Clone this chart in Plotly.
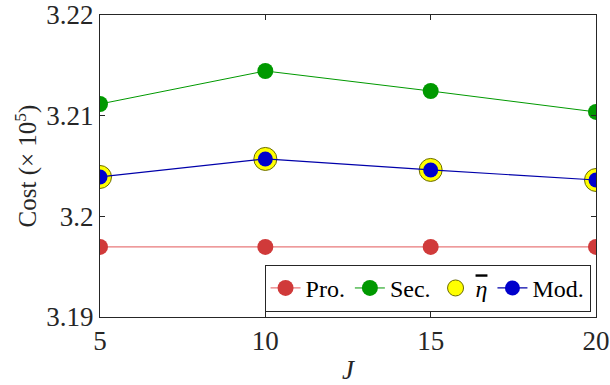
import plotly.graph_objects as go

J = [5, 10, 15, 20]
pro = [3.19696, 3.19696, 3.19696, 3.19696]
sec = [3.21116, 3.21444, 3.21245, 3.21037]
eta = [3.20391, 3.20570, 3.20461, 3.20361]
mod = [3.20391, 3.20570, 3.20461, 3.20361]
yticks = [3.19, 3.20, 3.21, 3.22]
ytick_text = ["3.19", "3.2", "3.21", "3.22"]
xticks = [5, 10, 15, 20]

FONT = "Liberation Serif"
AX = "#262626"
FS = 27

fig = go.Figure()
fig.add_trace(go.Scatter(x=J, y=pro, name="Pro.", mode="lines+markers",
                         line=dict(color="#e8797a", width=1.2),
                         marker=dict(color="#d03a3a", size=16)))
fig.add_trace(go.Scatter(x=J, y=sec, name="Sec.", mode="lines+markers",
                         line=dict(color="#009900", width=1),
                         marker=dict(color="#009900", size=16)))
fig.add_trace(go.Scatter(x=J, y=eta,
                         name="<span style='text-decoration:overline'><i>η</i></span>",
                         mode="markers",
                         marker=dict(color="#ffff00", size=23,
                                     line=dict(color="#6b6b00", width=1))))
fig.add_trace(go.Scatter(x=J, y=mod, name="Mod.", mode="lines+markers",
                         line=dict(color="#0000aa", width=1.2),
                         marker=dict(color="#0000cc", size=15)))

axis_common = dict(showline=True, linecolor=AX, linewidth=1, mirror="allticks",
                   ticks="inside", ticklen=5, tickcolor=AX, showgrid=False,
                   zeroline=False, automargin=False,
                   tickfont=dict(family=FONT, size=FS, color=AX))
fig.update_xaxes(range=[5, 20], tickvals=xticks, **axis_common,
                 title=dict(text="<i>J</i>", font=dict(family=FONT, size=FS, color=AX),
                            standoff=8))
fig.update_yaxes(range=[3.19, 3.22], tickvals=yticks, ticktext=ytick_text, **axis_common,
                 title=dict(text="Cost (× 10<sup>5</sup>)",
                            font=dict(family=FONT, size=25, color=AX), standoff=2))

fig.update_layout(
    width=610, height=385,
    margin=dict(l=100, r=14, t=15, b=68),
    plot_bgcolor="white", paper_bgcolor="white",
    legend=dict(orientation="h", x=0.989, xanchor="right", y=0.017, yanchor="bottom",
                bgcolor="white", bordercolor=AX, borderwidth=1,
                font=dict(family=FONT, size=24, color="black"),
                itemwidth=30, tracegroupgap=0, traceorder="normal"),
    showlegend=True,
)

fig.write_html("out.html")
